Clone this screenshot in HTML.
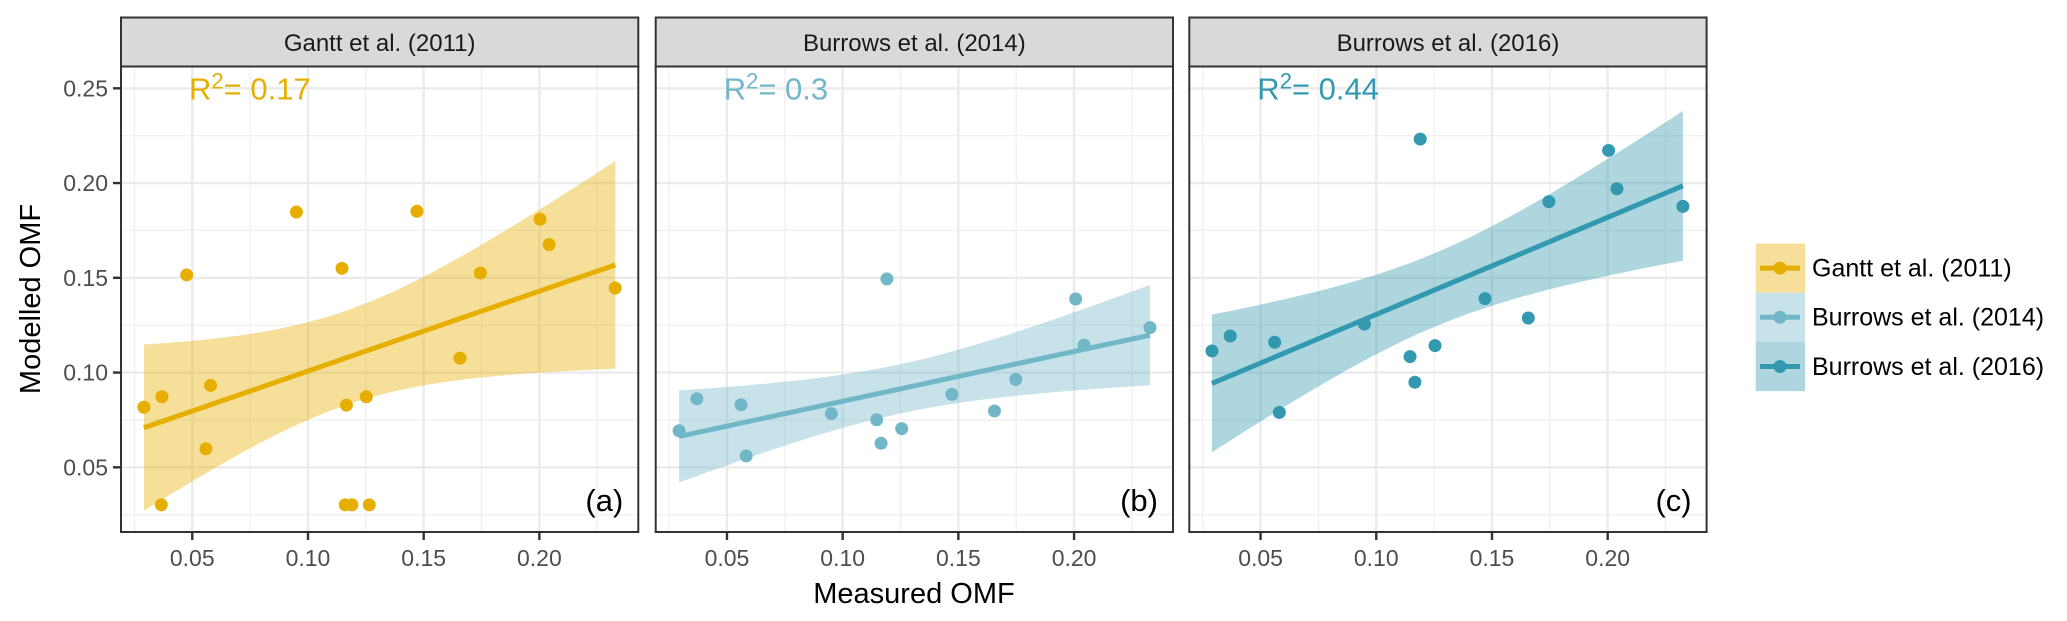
<!DOCTYPE html>
<html><head><meta charset="utf-8"><style>
html,body{margin:0;padding:0;background:#fff;}
svg{display:block;font-family:"Liberation Sans",sans-serif;}
</style></head><body>
<svg id="chart" width="2067" height="621" viewBox="0 0 2067 621" xmlns="http://www.w3.org/2000/svg"></svg>
<script>
const panelTitles = ["Gantt et al. (2011)", "Burrows et al. (2014)", "Burrows et al. (2016)"];
const panelLetters = ["(a)", "(b)", "(c)"];
const r2Labels = ["0.17", "0.3", "0.44"];
const xTicks = [0.05, 0.10, 0.15, 0.20];
const xTickLabels = ["0.05", "0.10", "0.15", "0.20"];
const yTicks = [0.05, 0.10, 0.15, 0.20, 0.25];
const yTickLabels = ["0.05", "0.10", "0.15", "0.20", "0.25"];
const ganttX = [0.0291,0.0369,0.0366,0.0476,0.0559,0.0579,0.095,0.1147,0.1166,0.1161,0.119,0.1252,0.1265,0.1471,0.1657,0.1745,0.2003,0.2042,0.2328];
const ganttY = [0.0817,0.0872,0.0302,0.1515,0.0598,0.0932,0.1847,0.155,0.0828,0.0302,0.0302,0.0872,0.0302,0.1851,0.1076,0.1525,0.1809,0.1675,0.1446];
const b14X = [0.0293,0.0370,0.0561,0.0583,0.0951,0.1147,0.1166,0.1255,0.1191,0.1472,0.1656,0.1748,0.2007,0.2043,0.2328];
const b14Y = [0.0693,0.0862,0.0830,0.0560,0.0783,0.0751,0.0627,0.0704,0.1494,0.0885,0.0797,0.0964,0.1388,0.1145,0.1237];
const b16X = [0.029,0.0369,0.0561,0.0581,0.0949,0.1146,0.1167,0.119,0.1254,0.147,0.1657,0.1746,0.2004,0.204,0.2325];
const b16Y = [0.1114,0.1193,0.1160,0.0790,0.1256,0.1084,0.0949,0.2232,0.1142,0.1390,0.1288,0.1902,0.2172,0.1970,0.1877];
const seriesX = [ganttX, b14X, b16X];
const seriesY = [ganttY, b14Y, b16Y];
const colors = ["#E6AF00", "#72B7C8", "#3399B0"];

const NS = "http://www.w3.org/2000/svg";
const svg = document.getElementById("chart");
function mk(tag, attrs, parent){ const e=document.createElementNS(NS,tag); for(const k in attrs) e.setAttribute(k,attrs[k]); (parent||svg).appendChild(e); return e; }

const panelLeft = [121, 655.7, 1189.3], panelW = 517.3, plotTop = 66.5, plotBot = 532, stripTop = 17.5;
const XMIN = 0.0192, XSCALE = 2314;
function xp(v,p){ return panelLeft[p] + (v - XMIN) * XSCALE; }
function yp(v){ return 467.3 - (v - 0.05) * 1895; }
function tq(df){ const t=[12.71,4.303,3.182,2.776,2.571,2.447,2.365,2.306,2.262,2.228,2.201,2.179,2.160,2.145,2.131,2.120,2.110,2.101,2.093,2.086,2.080,2.074,2.069,2.064,2.060,2.056,2.052,2.048,2.045,2.042]; return df<=30?t[df-1]:1.96; }

for (let p=0;p<3;p++){
  const L=panelLeft[p], R=L+panelW;
  const g = mk("g",{});
  
  
  // grid minor
  for (let v=0.025; v<0.27; v+=0.05){ const y=yp(v); if(y>plotTop&&y<plotBot) mk("line",{x1:L,x2:R,y1:y,y2:y,stroke:"#F0F0F0","stroke-width":1.3},g); }
  for (let v=0.025; v<0.25; v+=0.05){ const x=xp(v,p); if(x>L&&x<R) mk("line",{x1:x,x2:x,y1:plotTop,y2:plotBot,stroke:"#F0F0F0","stroke-width":1.3},g); }
  yTicks.forEach(v=>{ const y=yp(v); mk("line",{x1:L,x2:R,y1:y,y2:y,stroke:"#EBEBEB","stroke-width":2.4},g); });
  xTicks.forEach(v=>{ const x=xp(v,p); mk("line",{x1:x,x2:x,y1:plotTop,y2:plotBot,stroke:"#EBEBEB","stroke-width":2.4},g); });
  // regression
  const X=seriesX[p], Y=seriesY[p], n=X.length;
  const mx=X.reduce((a,b)=>a+b)/n, my=Y.reduce((a,b)=>a+b)/n;
  let sxx=0,sxy=0; for(let i=0;i<n;i++){sxx+=(X[i]-mx)**2; sxy+=(X[i]-mx)*(Y[i]-my);}
  const b=sxy/sxx, a=my-b*mx;
  let sse=0; for(let i=0;i<n;i++) sse+=(Y[i]-a-b*X[i])**2;
  const s=Math.sqrt(sse/(n-2)), t=tq(n-2);
  const x0=Math.min(...X), x1=Math.max(...X);
  const up=[], lo=[];
  for(let k=0;k<=60;k++){ const xv=x0+(x1-x0)*k/60; const f=a+b*xv; const se=s*Math.sqrt(1/n+(xv-mx)**2/sxx);
    up.push(xp(xv,p).toFixed(1)+","+yp(f+t*se).toFixed(1)); lo.unshift(xp(xv,p).toFixed(1)+","+yp(f-t*se).toFixed(1)); }
  const rib=mk("polygon",{points:up.concat(lo).join(" "),fill:colors[p],"fill-opacity":0.4},g);
  
  
  const ln=mk("line",{x1:xp(x0,p),y1:yp(a+b*x0),x2:xp(x1,p),y2:yp(a+b*x1),stroke:colors[p],"stroke-width":5},g);
  
  
  for(let i=0;i<n;i++){ const c=mk("circle",{cx:xp(X[i],p),cy:yp(Y[i]),r:6.5,fill:colors[p]},g);
    
     }
  // border
  mk("rect",{x:L,y:plotTop,width:panelW,height:plotBot-plotTop,fill:"none",stroke:"#333","stroke-width":2},g);
  // strip
  const st=mk("rect",{x:L,y:stripTop,width:panelW,height:plotTop-stripTop,fill:"#D9D9D9",stroke:"#333","stroke-width":2},g);
  
  
  const stt=mk("text",{x:L+panelW/2,y:51,"text-anchor":"middle","font-size":24,fill:"#1A1A1A"},g); stt.textContent=panelTitles[p];
  
  
  // R2
  const r2=mk("text",{x:L+68,y:99.5,"font-size":31,fill:colors[p]},g);
  
  
  r2.innerHTML='R<tspan dy="-11" font-size="22">2</tspan><tspan dy="11">= '+r2Labels[p]+'</tspan>';
  const lt=mk("text",{x:R-15,y:511,"text-anchor":"end","font-size":31,fill:"#000"},g); lt.textContent=panelLetters[p];
  
  
  // x ticks
  xTicks.forEach((v,i)=>{ const x=xp(v,p); mk("line",{x1:x,x2:x,y1:plotBot,y2:plotBot+8,stroke:"#333","stroke-width":2.4},g);
    const tx=mk("text",{x:x,y:566,"text-anchor":"middle","font-size":23,fill:"#4D4D4D"},g); tx.textContent=xTickLabels[i];
    
     });
  if(p===0){ yTicks.forEach((v,i)=>{ const y=yp(v); mk("line",{x1:L-8,x2:L,y1:y,y2:y,stroke:"#333","stroke-width":2.4},g);
    const ty=mk("text",{x:L-13,y:y+8,"text-anchor":"end","font-size":23,fill:"#4D4D4D"},g); ty.textContent=yTickLabels[i];
    
     }); }
}
const xt=mk("text",{x:914,y:603,"text-anchor":"middle","font-size":29,fill:"#000"}); xt.textContent="Measured OMF";


const yt=mk("text",{x:0,y:0,"text-anchor":"middle","font-size":29,fill:"#000",transform:"translate(40,299) rotate(-90)"}); yt.textContent="Modelled OMF";


// legend
for(let i=0;i<3;i++){
  const y0=243.5+i*49.2;
  const lg=mk("g",{});
  
  
  mk("rect",{x:1755.7,y:y0,width:49.3,height:49.2,fill:colors[i],"fill-opacity":0.4},lg);
  mk("line",{x1:1760,x2:1800,y1:y0+24.6,y2:y0+24.6,stroke:colors[i],"stroke-width":5},lg);
  mk("circle",{cx:1780,cy:y0+24.6,r:6.5,fill:colors[i]},lg);
  const t=mk("text",{x:1812,y:y0+33,"font-size":25,fill:"#000"},lg); t.textContent=panelTitles[i];
}
</script>
</body></html>
